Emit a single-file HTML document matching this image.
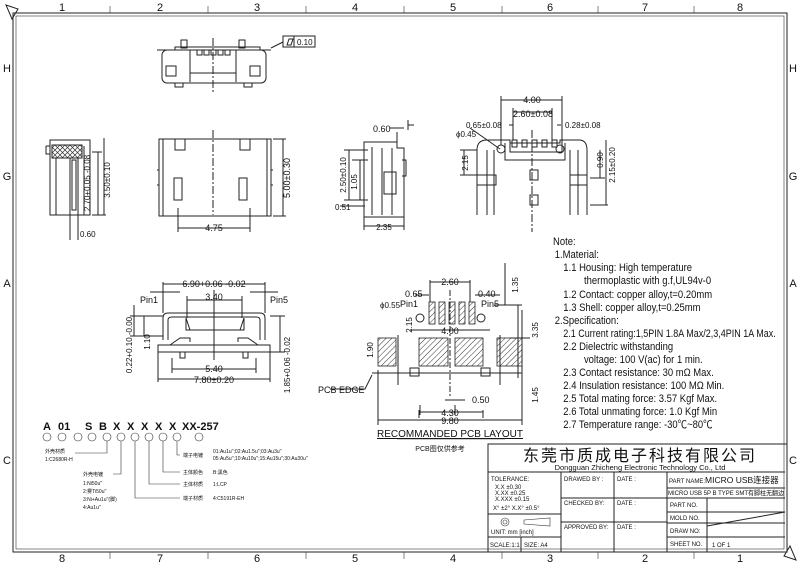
<!DOCTYPE html>
<html><head><meta charset="utf-8"><style>
html,body{margin:0;padding:0;background:#fff}
svg{display:block}
text{font-family:"Liberation Sans","Noto Sans CJK SC",sans-serif;fill:#111}
.l{stroke:#222;stroke-width:1;fill:none}
.t{stroke:#333;stroke-width:.6;fill:none}
.h{fill:url(#hat);stroke:#222;stroke-width:.8}
</style></head><body>
<svg width="800" height="565" viewBox="0 0 800 565" xmlns="http://www.w3.org/2000/svg">
<defs>
<pattern id="hat" width="4" height="4" patternUnits="userSpaceOnUse" patternTransform="rotate(45)"><line x1="0" y1="0" x2="0" y2="4" stroke="#333" stroke-width="1"/></pattern>
<pattern id="xh" width="5" height="5" patternUnits="userSpaceOnUse"><path d="M0 0L5 5M5 0L0 5" stroke="#333" stroke-width=".7"/></pattern>
</defs>
<!-- frame -->
<rect x="13" y="13" width="774" height="539" class="l" stroke-width="1.5"/>
<rect x="16" y="16" width="768" height="533" class="t"/>
<path d="M6 5L18 9L12 19Z" class="l"/><path d="M796 560L784 556L790 546Z" class="l"/>
<g font-size="11" text-anchor="middle">
<text x="62" y="11">1</text><text x="160" y="11">2</text><text x="257" y="11">3</text><text x="355" y="11">4</text><text x="453" y="11">5</text><text x="550" y="11">6</text><text x="645" y="11">7</text><text x="740" y="11">8</text>
<text x="62" y="562">8</text><text x="160" y="562">7</text><text x="257" y="562">6</text><text x="355" y="562">5</text><text x="453" y="562">4</text><text x="550" y="562">3</text><text x="645" y="562">2</text><text x="740" y="562">1</text>
<text x="7" y="72">H</text><text x="7" y="180">G</text><text x="7" y="287">A</text><text x="7" y="464">C</text>
<text x="793" y="72">H</text><text x="793" y="180">G</text><text x="793" y="287">A</text><text x="793" y="464">C</text>
</g>
<g class="t"><path d="M110 13V6M208 13V6M306 13V6M404 13V6M502 13V6M598 13V6M694 13V6M110 552V559M208 552V559M306 552V559M404 552V559M502 552V559M598 552V559M694 552V559"/></g>

<!-- top view -->
<g class="l">
<path d="M157 50H175V47H260V50H271"/>
<rect x="162" y="50" width="104" height="33" rx="5"/>
<rect x="181" y="40" width="6" height="8"/><rect x="239" y="40" width="6" height="8"/>
<path d="M190 50V82M236 50V82M190 73H236"/>
<rect x="197" y="50" width="5" height="5"/><rect x="204" y="50" width="5" height="5"/><rect x="211" y="50" width="5" height="5"/><rect x="218" y="50" width="5" height="5"/><rect x="225" y="50" width="5" height="5"/>
<rect x="166" y="66" width="10" height="10"/><rect x="250" y="66" width="10" height="10"/>
<rect x="175" y="83" width="8" height="4"/><rect x="244" y="83" width="8" height="4"/>
<path d="M213 38V94" stroke-dasharray="8 2 2 2"/>
<path d="M271 48L283 42"/>
<rect x="283" y="36" width="32" height="11"/><path d="M294 36V47"/>
<path d="M287 45L289 39H293L291 45Z"/>
</g>
<text x="297" y="45" font-size="8">0.10</text>

<!-- front view -->
<g class="l">
<rect x="159" y="139" width="112" height="77"/>
<path d="M163 139V216M267 139V216M175 139V150H185V139M240 139V150H250V139M188 139H237"/>
<path d="M174 178h8v22h-8zM239 178h8v22h-8z"/>
<path d="M157 170h2M157 185h2M271 170h2M271 185h2"/>
<path d="M213 130V215" stroke-dasharray="8 2 2 2"/>
<path d="M273 139H286M273 216H286M283 139V216M178 208V232M250 208V232M178 228H250"/>
</g>
<text transform="translate(290 178) rotate(-90)" font-size="9" text-anchor="middle">5.00±0.30</text>
<text x="214" y="231" font-size="9" text-anchor="middle">4.75</text>

<!-- left side view -->
<g class="l">
<rect x="50" y="140" width="40" height="75"/>
<rect x="52" y="145" width="30" height="13" fill="url(#xh)"/>
<path d="M56 158V215M70 158V215M78 158V215M84 146V215M46 146H50M46 146V154H50"/>
<path d="M72 160h4v50h-4z"/>
<path d="M92 152H102M92 215H106M98 152V215M104 138V215M70 215V240M78 215V240"/>
</g>
<text transform="translate(90 183) rotate(-90)" font-size="8" text-anchor="middle">2.70+0.05 -0.08</text>
<text transform="translate(110 180) rotate(-90)" font-size="8" text-anchor="middle">3.50±0.10</text>
<text x="80" y="237" font-size="8">0.60</text>

<!-- side view 2 -->
<g class="l">
<path d="M364 142V217H404V148H397V142H370Z"/>
<path d="M372 147V215M382 148V215M392 148V215M402 160h4v16h-4"/>
<path d="M384 172h12v22h-12z"/>
<path d="M397 142V132M408 130V120M390 128H404M408 125H414"/>
<path d="M344 150H368M344 200H368M352 160H368M349 150V200M360 160V200M340 206H365M364 217V230M404 217V230M364 226H404"/>
</g>
<text x="373" y="132" font-size="9">0.60</text>
<text transform="translate(346 175) rotate(-90)" font-size="8" text-anchor="middle">2.50±0.10</text>
<text transform="translate(357 182) rotate(-90)" font-size="8" text-anchor="middle">1.05</text>
<text x="335" y="210" font-size="8">0.51</text>
<text x="384" y="230" font-size="8" text-anchor="middle">2.35</text>

<!-- right view -->
<g class="l">
<path d="M477 215V150Q477 140 487 140H510V143H560V140H579Q587 140 587 150V215"/>
<path d="M487 150V215M494 150V215M570 150V215M578 150V215"/>
<path d="M505 143V160H565V143M510 143V152H562V143"/>
<circle cx="501" cy="149" r="4"/><circle cx="560" cy="149" r="4"/>
<rect x="512" y="140" width="5" height="7"/><rect x="522" y="140" width="5" height="7"/><rect x="532" y="140" width="5" height="7"/><rect x="542" y="140" width="5" height="7"/><rect x="552" y="140" width="5" height="7"/>
<path d="M477 175H496V185H477M570 175H587V185H570M530 170h8v10h-8zM530 195h8v10h-8z"/>
<path d="M532 130V232" stroke-dasharray="8 2 2 2"/>
<path d="M501 96V145M562 96V145M501 100H562M513 108V140M552 108V140M513 112H552M509 125H513M557 125H561M470 128L500 149"/>
<path d="M460 150H477M460 175H477M464 150V175M590 178H605M590 205H608M600 150V178M606 140V205"/>
</g>
<text x="532" y="103" font-size="9" text-anchor="middle">4.00</text>
<text x="533" y="117" font-size="9" text-anchor="middle">2.60±0.08</text>
<text x="466" y="128" font-size="8">0.65±0.08</text>
<text x="456" y="137" font-size="8">ϕ0.45</text>
<text x="565" y="128" font-size="8">0.28±0.08</text>
<text transform="translate(468 163) rotate(-90)" font-size="8" text-anchor="middle">2.15</text>
<text transform="translate(603 160) rotate(-90)" font-size="8" text-anchor="middle">0.90</text>
<text transform="translate(615 165) rotate(-90)" font-size="8" text-anchor="middle">2.15±0.20</text>

<!-- bottom view -->
<g class="l">
<path d="M163 340V318Q163 313 168 313H260Q265 313 265 318V340"/>
<path d="M168 340V320Q168 317 172 317H256Q260 317 260 320V340"/>
<path d="M186 318V330H244V318M190 330L186 318M240 330L244 318"/>
<path d="M188 330h52" stroke-dasharray="3 1"/>
<path d="M158 345H270V352H158Z"/>
<path d="M170 345L180 338H190L190 342M258 345L248 338H238V342"/>
<rect x="180" y="352" width="5" height="6"/><rect x="243" y="352" width="5" height="6"/>
<path d="M163 282V313M265 282V313M163 284H265M187 296V318M242 296V318M187 300H242M214 290V360"/>
<path d="M180 292H150M250 292H278"/>
<path d="M130 316H163M130 336H163M134 305V336M144 316V336M270 316H285M270 352H285M280 316V352"/>
<path d="M172 358V373M256 358V373M172 369H256M158 352V382M270 352V382M158 379H270"/>
</g>
<text x="214" y="287" font-size="9" text-anchor="middle">6.90+0.06 -0.02</text>
<text x="214" y="300" font-size="9" text-anchor="middle">3.40</text>
<text x="140" y="303" font-size="9">Pin1</text>
<text x="270" y="303" font-size="9">Pin5</text>
<text transform="translate(132 345) rotate(-90)" font-size="8" text-anchor="middle">0.22+0.10 -0.00</text>
<text transform="translate(150 342) rotate(-90)" font-size="8" text-anchor="middle">1.10</text>
<text transform="translate(290 365) rotate(-90)" font-size="8" text-anchor="middle">1.85+0.06 -0.02</text>
<text x="214" y="372" font-size="9" text-anchor="middle">5.40</text>
<text x="214" y="383" font-size="9" text-anchor="middle">7.80±0.20</text>

<!-- PCB layout -->
<g class="l">
<rect x="378" y="338" width="18" height="28" class="h"/>
<rect x="419" y="338" width="29" height="28" class="h"/>
<rect x="455" y="338" width="28" height="28" class="h"/>
<rect x="497" y="338" width="25" height="28" class="h"/>
<rect x="429" y="302" width="6" height="22" class="h"/><rect x="439" y="302" width="6" height="22" class="h"/><rect x="449" y="302" width="6" height="22" class="h"/><rect x="459" y="302" width="6" height="22" class="h"/><rect x="469" y="302" width="6" height="22" class="h"/>
<circle cx="420" cy="318" r="4"/><circle cx="481" cy="318" r="4"/>
<rect x="410" y="368" width="9" height="8"/><rect x="481" y="368" width="9" height="8"/>
<path d="M372 373H522M378 370V425M522 310V425M398 335V385M500 335V385M420 405V415M455 405V415"/>
<path d="M430 280V302M470 280V302M430 282H470M415 295H429M475 295H500M494 305H522M505 263V305M518 305V378M510 338H530"/>
<path d="M378 420H522M419 410V418M483 410V418M419 412H483M445 400H465M410 330H490"/>
<path d="M330 389H365L372 375"/>
<path d="M450 290V398" stroke-dasharray="6 2 2 2"/>
</g>
<text x="450" y="285" font-size="9" text-anchor="middle">2.60</text>
<text x="405" y="297" font-size="9">0.65</text>
<text x="478" y="297" font-size="9">0.40</text>
<text x="380" y="308" font-size="8">ϕ0.55</text>
<text x="400" y="307" font-size="9">Pin1</text>
<text x="481" y="307" font-size="9">Pin5</text>
<text x="450" y="334" font-size="9" text-anchor="middle">4.00</text>
<text transform="translate(518 285) rotate(-90)" font-size="8" text-anchor="middle">1.35</text>
<text transform="translate(538 330) rotate(-90)" font-size="8" text-anchor="middle">3.35</text>
<text transform="translate(538 395) rotate(-90)" font-size="8" text-anchor="middle">1.45</text>
<text transform="translate(373 350) rotate(-90)" font-size="8" text-anchor="middle">1.90</text>
<text transform="translate(412 325) rotate(-90)" font-size="8" text-anchor="middle">2.15</text>
<text x="318" y="393" font-size="9">PCB EDGE</text>
<text x="472" y="403" font-size="9">0.50</text>
<text x="450" y="416" font-size="9" text-anchor="middle">4.30</text>
<text x="450" y="424" font-size="9" text-anchor="middle">9.80</text>
<text x="450" y="437" font-size="10" text-anchor="middle" text-decoration="underline">RECOMMANDED PCB LAYOUT</text>
<path d="M397 439H505" class="t"/>
<text x="440" y="451" font-size="7" text-anchor="middle">PCB图仅供参考</text>

<!-- notes -->
<g font-size="11" transform="translate(553 0) scale(0.86 1) translate(-553 0)">
<text x="553" y="245">Note:</text>
<text x="555" y="258">1.Material:</text>
<text x="565" y="271">1.1 Housing: High temperature</text>
<text x="589" y="284">thermoplastic with g.f,UL94v-0</text>
<text x="565" y="298">1.2 Contact: copper alloy,t=0.20mm</text>
<text x="565" y="311">1.3 Shell: copper alloy,t=0.25mm</text>
<text x="555" y="324">2.Specification:</text>
<text x="565" y="337" textLength="247" lengthAdjust="spacingAndGlyphs">2.1 Current rating:1,5PIN 1.8A Max/2,3,4PIN 1A Max.</text>
<text x="565" y="350">2.2 Dielectric withstanding</text>
<text x="589" y="363">voltage: 100 V(ac) for 1 min.</text>
<text x="565" y="376">2.3 Contact resistance: 30 mΩ Max.</text>
<text x="565" y="389">2.4 Insulation resistance: 100 MΩ Min.</text>
<text x="565" y="402">2.5 Total mating force: 3.57 Kgf Max.</text>
<text x="565" y="415">2.6 Total unmating force: 1.0 Kgf Min</text>
<text x="565" y="428">2.7 Temperature range: -30℃~80℃</text>
</g>

<!-- part code -->
<g font-size="11" font-weight="bold">
<text x="43" y="430">A</text><text x="58" y="430">01</text><text x="85" y="430">S</text><text x="99" y="430">B</text><text x="113" y="430">X</text><text x="127" y="430">X</text><text x="141" y="430">X</text><text x="155" y="430">X</text><text x="169" y="430">X</text><text x="182" y="430">XX-257</text>
</g>
<g class="t">
<circle cx="47" cy="437" r="4"/><circle cx="62" cy="437" r="4"/><circle cx="78" cy="437" r="4"/><circle cx="92" cy="437" r="4"/><circle cx="107" cy="437" r="4"/><circle cx="121" cy="437" r="4"/><circle cx="135" cy="437" r="4"/><circle cx="149" cy="437" r="4"/><circle cx="163" cy="437" r="4"/><circle cx="177" cy="437" r="4"/><circle cx="199" cy="437" r="4"/>
<path d="M107 441V453H75M121 441V474H113M135 441V498H180M149 441V484H180M163 441V472H180M177 441V455H180"/>
</g>
<g font-size="5">
<text x="45" y="453">外壳材质</text><text x="45" y="461">1:C2680R-H</text>
<text x="83" y="476">外壳电镀</text><text x="83" y="485">1:Ni50u''</text><text x="83" y="493">2:雾Ti50u''</text><text x="83" y="501">3:Ni+Au1u''(脚)</text><text x="83" y="509">4:Au1u''</text>
<text x="183" y="457">端子电镀</text><text x="213" y="453">01:Au1u'';02:Au1.5u'';03:Au3u''</text><text x="213" y="460">05:Au5u'';10:Au10u'';15:Au15u'';30:Au30u''</text>
<text x="183" y="474">主体颜色</text><text x="213" y="474">B:黑色</text>
<text x="183" y="486">主体材质</text><text x="213" y="486">1:LCP</text>
<text x="183" y="500">端子材质</text><text x="213" y="500">4:C5191R-EH</text>
</g>

<!-- title block -->
<g class="l">
<path d="M488 552V444H787M488 472H785M561 472V552M614 472V552M667 472V552M707 498V552M488 514H561M488 537H561M521 537V552M561 498H667M561 522H667M667 488H785M667 498H785M667 512H785M667 523H785M667 537H785M707 526L785 512"/>
</g>
<text x="640" y="461" font-size="16" text-anchor="middle" font-family="Noto Serif CJK SC,serif" letter-spacing="2">东莞市质成电子科技有限公司</text>
<text x="640" y="470" font-size="7.5" text-anchor="middle" font-family="Liberation Mono,monospace">Dongguan Zhicheng Electronic Technology Co., Ltd</text>
<g font-size="6">
<text x="491" y="481">TOLERANCE:</text><text x="495" y="489">X.X   ±0.30</text><text x="495" y="495">X.XX  ±0.25</text><text x="495" y="501">X.XXX ±0.15</text><text x="493" y="510">X° ±2°    X.X° ±0.5°</text>
<text x="491" y="534">UNIT: mm [inch]</text><text x="490" y="547">SCALE:1:1</text><text x="524" y="547">SIZE: A4</text>
<text x="564" y="481">DRAWED BY :</text><text x="617" y="481">DATE :</text>
<text x="564" y="505">CHECKED BY:</text><text x="617" y="505">DATE :</text>
<text x="564" y="529">APPROVED BY:</text><text x="617" y="529">DATE :</text>
<text x="670" y="507">PART NO.</text><text x="670" y="520">MOLD NO.</text><text x="670" y="533">DRAW NO:</text><text x="670" y="546">SHEET NO.</text><text x="712" y="547">1 OF 1</text>
</g>
<circle cx="505" cy="522" r="4" class="t"/><circle cx="505" cy="522" r="2" class="t"/>
<path d="M524 520L550 518V526L524 524Z" class="t"/>
<text x="669" y="483" font-size="6">PART NAME:</text>
<text x="705" y="483" font-size="8.5" font-family="Liberation Serif,Noto Serif CJK SC,serif">MICRO USB连接器</text>
<text x="668" y="495" font-size="6.5" textLength="116" lengthAdjust="spacingAndGlyphs">MICRO USB 5P B TYPE SMT有脚柱无翻边</text>
</svg>
</body></html>
